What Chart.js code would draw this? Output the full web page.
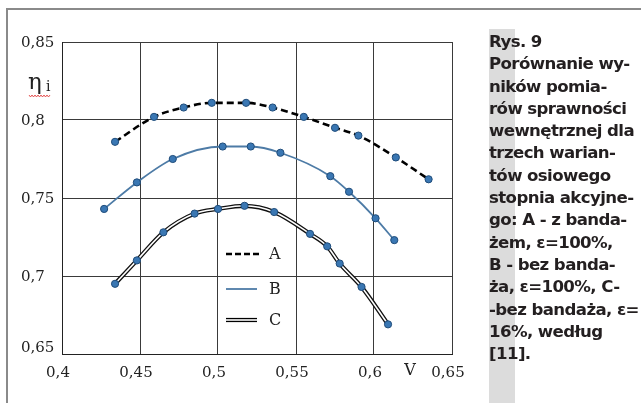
<!DOCTYPE html>
<html>
<head>
<meta charset="utf-8">
<script src="https://cdn.jsdelivr.net/npm/chart.js@4.4.1/dist/chart.umd.min.js"></script>
<style>
  html, body { margin: 0; padding: 0; background: #fff; }
  #wrap { position: relative; width: 641px; height: 403px; overflow: hidden; }
  #chart { position: absolute; left: 0; top: 0; }
  .frame-top { position: absolute; left: 7px; top: 8px; width: 634px; height: 2px; background: #8a8a8a; }
  .frame-left { position: absolute; left: 6px; top: 8px; width: 2px; height: 395px; background: #8a8a8a; }
  .stripe { position: absolute; left: 489px; top: 29px; width: 26px; height: 374px; background: #dcdcdc; }
  .caption {
    position: absolute; left: 489px; top: 31px;
    font-family: "DejaVu Sans", sans-serif; font-weight: bold;
    font-size: 16.6px; line-height: 22.3px; color: #231f20;
    letter-spacing: -0.6px; white-space: nowrap;
  }
</style>
</head>
<body>
<div id="wrap">
  <canvas id="chart" width="641" height="403"></canvas>
  <div class="frame-top"></div>
  <div class="frame-left"></div>
  <div class="stripe"></div>
  <div class="caption">Rys. 9<br>Porównanie wy-<br>ników pomia-<br>rów sprawności<br>wewnętrznej dla<br>trzech warian-<br>tów osiowego<br>stopnia akcyjne-<br>go: A - z banda-<br>żem, ε=100%,<br>B - bez banda-<br>ża, ε=100%, C-<br>-bez bandaża, ε=<br>16%, według<br>[11].</div>
</div>
<script>
// series (V vs eta_i)
const vA   = [0.434, 0.459, 0.478, 0.496, 0.518, 0.535, 0.555, 0.575, 0.590, 0.614, 0.635];
const etaA = [0.786, 0.802, 0.808, 0.811, 0.811, 0.808, 0.802, 0.795, 0.790, 0.776, 0.762];
const vB   = [0.427, 0.448, 0.471, 0.503, 0.521, 0.540, 0.572, 0.584, 0.601, 0.613];
const etaB = [0.743, 0.760, 0.775, 0.783, 0.783, 0.779, 0.764, 0.754, 0.737, 0.723];
const vC   = [0.434, 0.448, 0.465, 0.485, 0.500, 0.517, 0.536, 0.559, 0.570, 0.578, 0.592, 0.609];
const etaC = [0.695, 0.710, 0.728, 0.740, 0.743, 0.745, 0.741, 0.727, 0.719, 0.708, 0.693, 0.669];

const seriesLabels = ['A', 'B', 'C'];
const xTicks = [0.4, 0.45, 0.5, 0.55, 0.6, 0.65];
const xTickLabels = ['0,4', '0,45', '0,5', '0,55', '0,6', '0,65'];
const yTicks = [0.65, 0.7, 0.75, 0.8, 0.85];
const yTickLabels = ['0,65', '0,7', '0,75', '0,8', '0,85'];
const xTitle = 'V';
const yTitle = 'η';
const yTitleSub = 'i';

const toPts = (xs, ys) => xs.map((x, i) => ({ x: x, y: ys[i] }));

const POINT_FILL = '#3a77b3';
const POINT_EDGE = '#1f4c7a';
const SERIF = '"DejaVu Serif", serif';

// axis texts + legend, drawn through the scales
const decorations = {
  id: 'decorations',
  afterDraw(chart) {
    const ctx = chart.ctx;
    const xs = chart.scales.x, ys = chart.scales.y;
    const area = chart.chartArea;
    ctx.save();
    ctx.fillStyle = '#222';
    ctx.font = '15px ' + SERIF;
    ctx.textBaseline = 'middle';

    ctx.textAlign = 'center';
    xTicks.forEach((v, i) => {
      ctx.fillText(xTickLabels[i], xs.getPixelForValue(v) - 4, area.bottom + 19);
    });
    ctx.textAlign = 'left';
    yTicks.forEach((v, i) => {
      const y = Math.min(ys.getPixelForValue(v), area.bottom - 7);
      ctx.fillText(yTickLabels[i], 21, y + 1);
    });

    // axis titles
    ctx.textAlign = 'center';
    ctx.font = '16px ' + SERIF;
    ctx.fillText(xTitle, xs.getPixelForValue(0.6) + 36, area.bottom + 17);
    ctx.textAlign = 'left';
    ctx.textBaseline = 'alphabetic';
    ctx.font = '23px ' + SERIF;
    ctx.fillText(yTitle, 28, 89);
    ctx.font = '14px ' + SERIF;
    ctx.fillText(yTitleSub, 46, 91);
    // spell-check squiggle under the symbol
    ctx.strokeStyle = '#e03030';
    ctx.lineWidth = 0.8;
    ctx.beginPath();
    for (let x = 29, k = 0; x <= 50; x += 1.5, k++) {
      const y = 96 + (k % 2 ? 1 : -1);
      if (k === 0) ctx.moveTo(x, y); else ctx.lineTo(x, y);
    }
    ctx.stroke();

    // legend
    const lx0 = xs.getPixelForValue(0.5) + 8, lx1 = lx0 + 34;
    const rows = [254, 289, 320];
    const textX = lx1 + 9;
    ctx.font = '16px ' + SERIF;
    ctx.textBaseline = 'middle';
    ctx.fillStyle = '#222';
    // A
    ctx.strokeStyle = '#000';
    ctx.lineWidth = 2.6;
    ctx.setLineDash([6, 3]);
    ctx.beginPath(); ctx.moveTo(lx0, rows[0]); ctx.lineTo(lx1, rows[0]); ctx.stroke();
    ctx.setLineDash([]);
    ctx.fillText(seriesLabels[0], textX, rows[0] + 1);
    // B
    ctx.strokeStyle = chart.data.datasets[1].borderColor;
    ctx.lineWidth = 1.8;
    ctx.beginPath(); ctx.moveTo(lx0, rows[1]); ctx.lineTo(lx1 - 3, rows[1]); ctx.stroke();
    ctx.fillText(seriesLabels[1], textX, rows[1] + 1);
    // C double line
    ctx.strokeStyle = '#000';
    ctx.lineWidth = 4.2;
    ctx.beginPath(); ctx.moveTo(lx0, rows[2]); ctx.lineTo(lx1 - 3, rows[2]); ctx.stroke();
    ctx.strokeStyle = '#fff';
    ctx.lineWidth = 1.6;
    ctx.beginPath(); ctx.moveTo(lx0, rows[2]); ctx.lineTo(lx1 - 3, rows[2]); ctx.stroke();
    ctx.fillText(seriesLabels[2], textX, rows[2] + 1);
    ctx.restore();
  }
};

const pointStyle = {
  pointRadius: 3.6,
  pointBackgroundColor: POINT_FILL,
  pointBorderColor: POINT_EDGE,
  pointBorderWidth: 1
};

new Chart(document.getElementById('chart'), {
  type: 'scatter',
  data: {
    datasets: [
      Object.assign({
        label: seriesLabels[0],
        data: toPts(vA, etaA),
        showLine: true,
        borderColor: '#000',
        borderWidth: 2.6,
        borderDash: [7, 4],
        cubicInterpolationMode: 'monotone',
        order: 0
      }, pointStyle),
      Object.assign({
        label: seriesLabels[1],
        data: toPts(vB, etaB),
        showLine: true,
        borderColor: '#4d7ba6',
        borderWidth: 1.8,
        cubicInterpolationMode: 'monotone',
        order: 0
      }, pointStyle),
      Object.assign({
        label: seriesLabels[2],
        data: toPts(vC, etaC),
        showLine: true,
        borderColor: '#fff',
        borderWidth: 1.6,
        cubicInterpolationMode: 'monotone',
        order: 1
      }, pointStyle),
      {
        label: seriesLabels[2] + ' outline',
        data: toPts(vC, etaC),
        showLine: true,
        borderColor: '#111',
        borderWidth: 4.2,
        pointRadius: 0,
        cubicInterpolationMode: 'monotone',
        order: 2
      }
    ]
  },
  options: {
    responsive: false,
    animation: false,
    layout: { padding: { left: 62, right: 189, top: 42, bottom: 49 } },
    plugins: { legend: { display: false }, tooltip: { enabled: false } },
    scales: {
      x: {
        type: 'linear', min: 0.4, max: 0.65,
        ticks: { display: false, stepSize: 0.05 },
        grid: { color: '#3a3a3a', lineWidth: 1, drawTicks: false },
        border: { color: '#222', width: 1 }
      },
      y: {
        type: 'linear', min: 0.65, max: 0.85,
        ticks: { display: false, stepSize: 0.05 },
        grid: { color: '#3a3a3a', lineWidth: 1, drawTicks: false },
        border: { color: '#222', width: 1 }
      }
    }
  },
  plugins: [decorations]
});
</script>
</body>
</html>
